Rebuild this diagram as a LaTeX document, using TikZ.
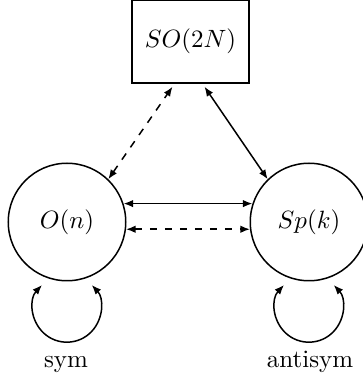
\documentclass[tikz,border=0pt]{standalone}
\usepackage{amsmath}
\usepackage{amssymb}
\usetikzlibrary{calc,arrows.meta}

\begin{document}
\begin{tikzpicture}[x=0.4pt,y=0.4pt,semithick,>={Latex[length=3.8pt,width=3pt]},
    grp/.style={circle,draw,minimum size=47pt,inner sep=0pt}]
            \useasboundingbox (0,0) rectangle (362,386);

            \node[draw,minimum width=46.8pt,minimum height=33.2pt] (so) at (190.5,344.5) {$SO(2N)$};
            \node[grp] (on) at (67,164) {$O(n)$};
            \node[grp] (spk) at (309,164) {$Sp(k)$};

            \draw[<->] (on.18) -- (spk.162);
            \draw[<->,dashed] (on.-7) -- (spk.-173);

            \draw[<->,dashed] (on.46) -- ($(so.south)+(-18,-3)$);
            \draw[<->] (spk.134) -- ($(so.south)+(14,-3)$);

            \draw[<->] ($(on)+(-25,-63)$) arc[start angle=137,end angle=403,radius=34];
            \draw[<->] ($(spk)+(-25,-63)$) arc[start angle=137,end angle=403,radius=34];

            \node[anchor=base] (sym) at (66,18) {sym};
            \node[anchor=base] (antisym) at (310,18) {antisym};
        \end{tikzpicture}
\end{document}
